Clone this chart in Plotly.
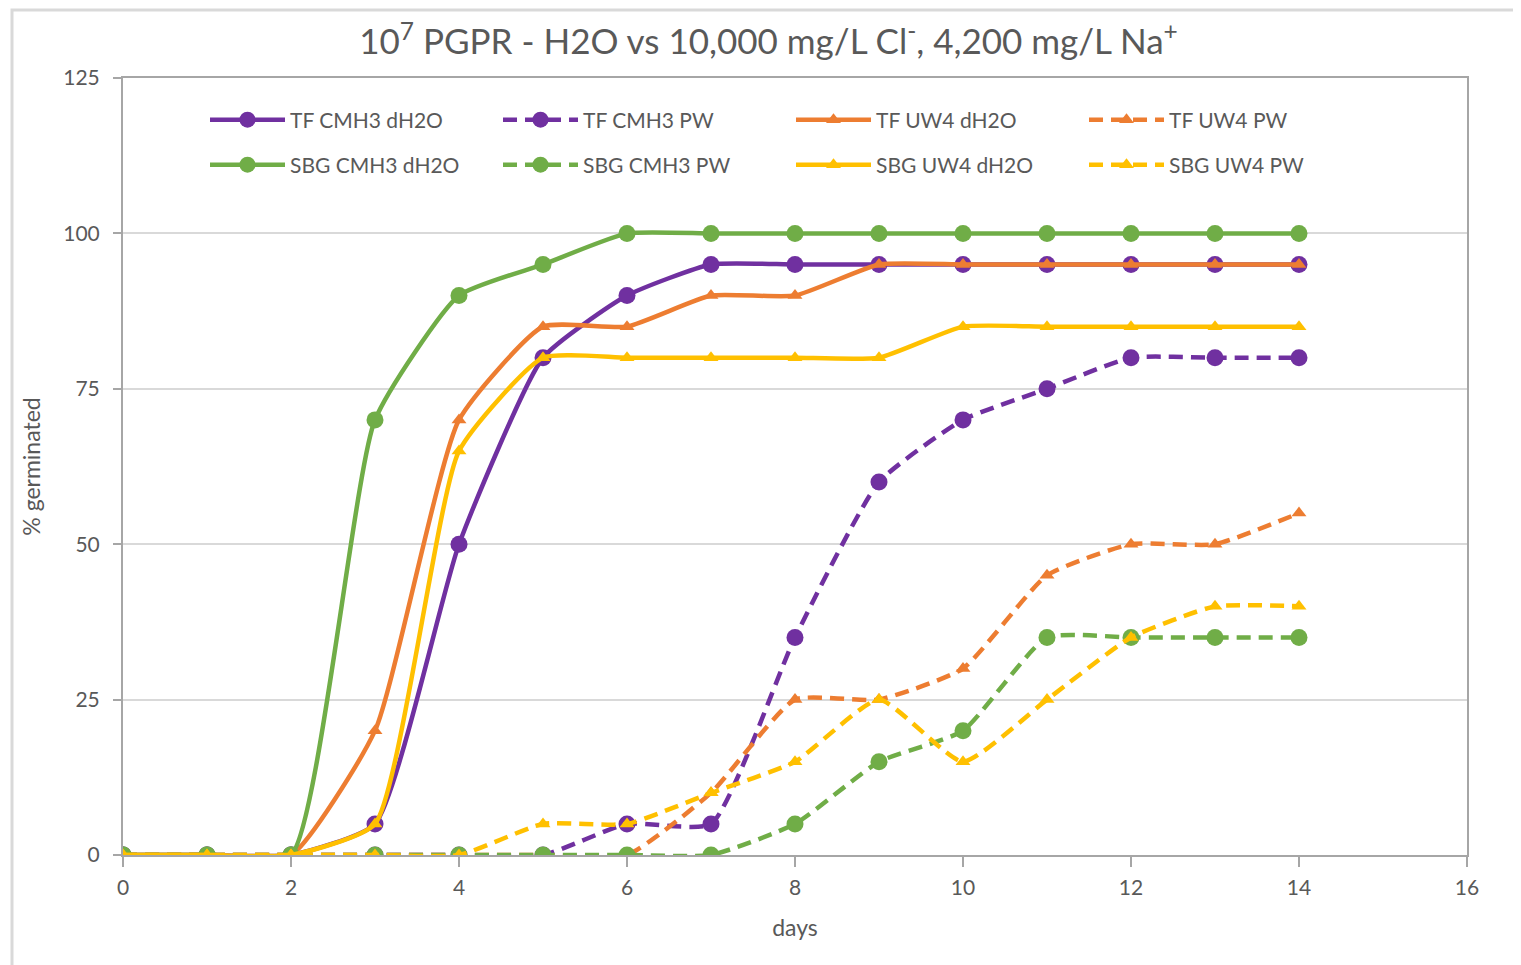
import plotly.graph_objects as go

days = list(range(15))

tf_cmh3_dh2o = [0, 0, 0, 5, 50, 80, 90, 95, 95, 95, 95, 95, 95, 95, 95]
tf_cmh3_pw = [0, 0, 0, 0, 0, 0, 5, 5, 35, 60, 70, 75, 80, 80, 80]
tf_uw4_dh2o = [0, 0, 0, 20, 70, 85, 85, 90, 90, 95, 95, 95, 95, 95, 95]
tf_uw4_pw = [0, 0, 0, 0, 0, 0, 0, 10, 25, 25, 30, 45, 50, 50, 55]
sbg_cmh3_dh2o = [0, 0, 0, 70, 90, 95, 100, 100, 100, 100, 100, 100, 100, 100, 100]
sbg_cmh3_pw = [0, 0, 0, 0, 0, 0, 0, 0, 5, 15, 20, 35, 35, 35, 35]
sbg_uw4_dh2o = [0, 0, 0, 5, 65, 80, 80, 80, 80, 80, 85, 85, 85, 85, 85]
sbg_uw4_pw = [0, 0, 0, 0, 0, 5, 5, 10, 15, 25, 15, 25, 35, 40, 40]

series_names = ["TF CMH3 dH2O", "TF CMH3 PW", "TF UW4 dH2O", "TF UW4 PW",
                "SBG CMH3 dH2O", "SBG CMH3 PW", "SBG UW4 dH2O", "SBG UW4 PW"]
series_values = [tf_cmh3_dh2o, tf_cmh3_pw, tf_uw4_dh2o, tf_uw4_pw,
                 sbg_cmh3_dh2o, sbg_cmh3_pw, sbg_uw4_dh2o, sbg_uw4_pw]

PURPLE = "#7030A0"
ORANGE = "#ED7D31"
GREEN = "#70AD47"
YELLOW = "#FFC000"
styles = [
    (PURPLE, "solid", "circle"), (PURPLE, "dash", "circle"),
    (ORANGE, "solid", "triangle-up"), (ORANGE, "dash", "triangle-up"),
    (GREEN, "solid", "circle"), (GREEN, "dash", "circle"),
    (YELLOW, "solid", "triangle-up"), (YELLOW, "dash", "triangle-up"),
]

fig = go.Figure()
for i, (name, vals, (color, dash, sym)) in enumerate(zip(series_names, series_values, styles)):
    fig.add_trace(go.Scatter(
        x=days, y=vals, name=name, mode="lines+markers",
        legend="legend" if i < 4 else "legend2",
        line=dict(color=color, width=4.5, shape="spline", smoothing=0.5,
                  dash="14px,8px" if dash == "dash" else "solid"),
        marker=dict(symbol=sym, color=color, size=17 if sym == "circle" else 13),
    ))

GRAY = "#595959"
AXIS = "#a6a6a6"
FONT = "Lato"
OX, OY = 8, 8  # page body offset
L, T, PW, PH = 123 - OX, 78 - OY, 1344, 777
legend_common = dict(orientation="h", xanchor="left", yanchor="middle",
                     entrywidth=203, entrywidthmode="pixels", itemwidth=75,
                     bgcolor="rgba(0,0,0,0)", font=dict(family=FONT, size=21, color=GRAY),
                     traceorder="normal")
fig.update_layout(
    width=1521, height=965,
    paper_bgcolor="white", plot_bgcolor="white",
    font=dict(family=FONT, color=GRAY, size=20),
    title=dict(text="10<sup>7</sup> PGPR - H2O vs 10,000 mg/L Cl<sup>-</sup>, 4,200 mg/L Na<sup>+</sup>",
               x=0.5, xanchor="center", y=1 - (42 - OY) / 965, yanchor="middle",
               font=dict(family=FONT, size=35, color=GRAY)),
    margin=dict(l=L, r=1521 - L - PW, t=T, b=965 - T - PH),
    showlegend=True,
    legend=dict(x=(205 - 123) / PW, y=(855 - 120) / PH, **legend_common),
    legend2=dict(x=(205 - 123) / PW, y=(855 - 165) / PH, **legend_common),
    xaxis=dict(range=[0, 16], tickvals=list(range(0, 17, 2)), showgrid=False,
               zeroline=False, showline=True, linecolor=AXIS, linewidth=2,
               mirror=True, ticks="outside", ticklen=10, tickcolor=AXIS, tickwidth=2,
               ticklabelstandoff=3,
               title=dict(text="days", font=dict(family=FONT, size=23, color=GRAY), standoff=22),
               tickfont=dict(family=FONT, size=21, color=GRAY)),
    yaxis=dict(range=[0, 125], tickvals=[0, 25, 50, 75, 100, 125], showgrid=True,
               gridcolor="#d9d9d9", gridwidth=2, zeroline=False, showline=True,
               linecolor=AXIS, linewidth=2, mirror=True, ticks="outside", ticklen=8,
               tickcolor=AXIS, tickwidth=2, ticklabelstandoff=9,
               title=dict(text="% germinated", font=dict(family=FONT, size=23, color=GRAY), standoff=16),
               tickfont=dict(family=FONT, size=21, color=GRAY)),
    shapes=[dict(type="rect", xref="paper", yref="paper",
                 x0=(12 - 123) / PW, x1=(1535 - 123) / PW,
                 y0=(855 - 985) / PH, y1=(855 - 10) / PH,
                 line=dict(color="#d9d9d9", width=3), layer="below")],
)

fig.write_html("out.html")
